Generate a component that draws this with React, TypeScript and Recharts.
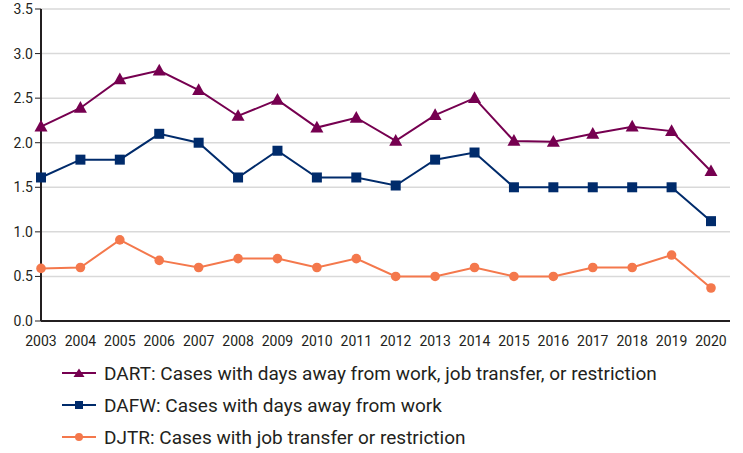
import React from 'react';
import { LineChart, Line, XAxis, YAxis, CartesianGrid, Legend } from 'recharts';

const years = ['2003', '2004', '2005', '2006', '2007', '2008', '2009', '2010', '2011', '2012', '2013', '2014', '2015', '2016', '2017', '2018', '2019', '2020'];
const dart = [2.18, 2.39, 2.71, 2.81, 2.59, 2.3, 2.48, 2.17, 2.28, 2.02, 2.31, 2.5, 2.02, 2.01, 2.1, 2.18, 2.13, 1.68];
const dafw = [1.61, 1.81, 1.81, 2.1, 2.0, 1.61, 1.91, 1.61, 1.61, 1.52, 1.81, 1.89, 1.5, 1.5, 1.5, 1.5, 1.5, 1.12];
const djtr = [0.59, 0.6, 0.91, 0.68, 0.6, 0.7, 0.7, 0.6, 0.7, 0.5, 0.5, 0.6, 0.5, 0.5, 0.6, 0.6, 0.74, 0.37];
const yTicks = [0, 0.5, 1, 1.5, 2, 2.5, 3, 3.5];

const seriesLabels = {
  dart: 'DART: Cases with days away from work, job transfer, or restriction',
  dafw: 'DAFW: Cases with days away from work',
  djtr: 'DJTR: Cases with job transfer or restriction',
};

const colors = { dart: '#760050', dafw: '#002b6b', djtr: '#f4784c' };
const textColor = '#231f20';
const font = 'Roboto, "Open Sans", sans-serif';

const data = years.map((y, i) => ({ year: y, dart: dart[i], dafw: dafw[i], djtr: djtr[i] }));

// markers
const Triangle = (props: any) => {
  const { cx, cy, fill, index } = props;
  if (cx == null || cy == null) return null;
  const s = 6.5;
  return (
    <polygon
      key={`t-${index}`}
      points={`${cx - s},${cy + s * 0.75} ${cx + s},${cy + s * 0.75} ${cx},${cy - s * 1.05}`}
      fill={fill}
    />
  );
};

const Square = (props: any) => {
  const { cx, cy, fill, index } = props;
  if (cx == null || cy == null) return null;
  const s = 5;
  return <rect key={`s-${index}`} x={cx - s} y={cy - s} width={s * 2} height={s * 2} fill={fill} />;
};

const Circle = (props: any) => {
  const { cx, cy, fill, index } = props;
  if (cx == null || cy == null) return null;
  return <circle key={`c-${index}`} cx={cx} cy={cy} r={4.8} fill={fill} />;
};

const legendIcon = (key: string) => {
  const c = (colors as any)[key];
  return (
    <svg width={34} height={14} style={{ display: 'block' }}>
      <line x1={0} y1={7} x2={34} y2={7} stroke={c} strokeWidth={2} />
      {key === 'dart' && <polygon points="11.5,11 22.5,11 17,2.5" fill={c} />}
      {key === 'dafw' && <rect x={13} y={3} width={8} height={8} fill={c} />}
      {key === 'djtr' && <circle cx={17} cy={7} r={4} fill={c} />}
    </svg>
  );
};

const CustomLegend = () => {
  const keys = ['dart', 'dafw', 'djtr'];
  return (
    <div style={{ fontFamily: font, color: textColor, height: 96 }}>
      {keys.map((k) => (
        <div key={k} style={{ display: 'flex', alignItems: 'center', height: 32 }}>
          <div style={{ width: 62 }} />
          {legendIcon(k)}
          <span style={{ marginLeft: 8, fontSize: 19, whiteSpace: 'nowrap' }}>{(seriesLabels as any)[k]}</span>
        </div>
      ))}
    </div>
  );
};

export default function App() {
  return (
    <div style={{ position: 'absolute', left: 0, top: 0, width: 743, height: 453, background: '#fff' }}>
      <LineChart width={743} height={453} data={data} margin={{ top: 9, right: 13, left: 0, bottom: 6 }}>
        <CartesianGrid vertical={false} stroke="#d9d9d9" strokeWidth={1.5} />
        <XAxis
          dataKey="year"
          padding={{ left: 0, right: 19 }}
          height={30}
          tickSize={0}
          tickMargin={15}
          interval={0}
          axisLine={{ stroke: textColor, strokeWidth: 2 }}
          tick={{ fill: textColor, fontSize: 14, fontFamily: font }}
        />
        <YAxis
          width={41}
          domain={[0, 3.5]}
          ticks={yTicks}
          tickFormatter={(v: number) => v.toFixed(1)}
          axisLine={{ stroke: textColor, strokeWidth: 2 }}
          tickLine={{ stroke: textColor }}
          tick={{ fill: textColor, fontSize: 14, fontFamily: font }}
        />
        <Legend
          content={<CustomLegend />}
          wrapperStyle={{ position: 'absolute', top: 357, left: 0, width: 743 }}
        />
        <Line dataKey="dart" name={seriesLabels.dart} stroke={colors.dart} strokeWidth={2} fill={colors.dart} dot={<Triangle />} activeDot={false} isAnimationActive={false} />
        <Line dataKey="dafw" name={seriesLabels.dafw} stroke={colors.dafw} strokeWidth={2} fill={colors.dafw} dot={<Square />} activeDot={false} isAnimationActive={false} />
        <Line dataKey="djtr" name={seriesLabels.djtr} stroke={colors.djtr} strokeWidth={2} fill={colors.djtr} dot={<Circle />} activeDot={false} isAnimationActive={false} />
      </LineChart>
    </div>
  );
}
